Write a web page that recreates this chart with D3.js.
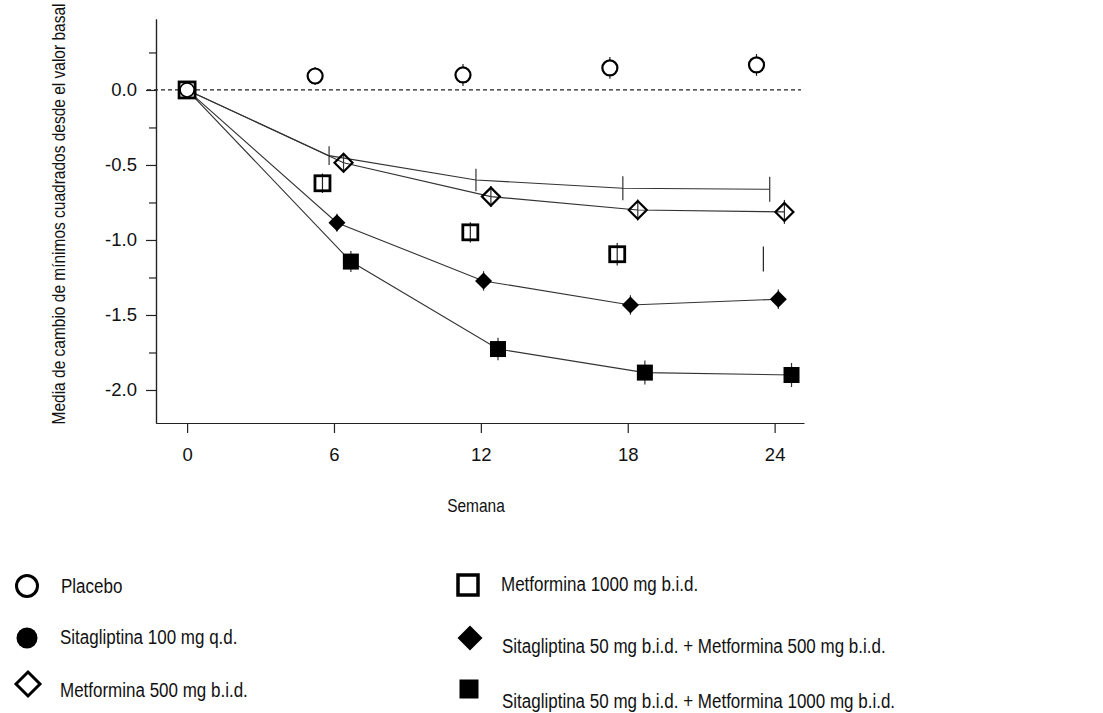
<!DOCTYPE html>
<html>
<head>
<meta charset="utf-8">
<script src="https://cdn.jsdelivr.net/npm/d3@7"></script>
<style>
body { margin: 0; background: #fff; }
text { font-family: "Liberation Sans", Arial, sans-serif; fill: #111; }
</style>
</head>
<body>
<script>
// values; each group sits a little off the nominal week
var xTicks = [0, 6, 12, 18, 24]
var yMajor = [0, -0.5, -1.0, -1.5, -2.0]
var yMajorLabels = ["0.0", "-0.5", "-1.0", "-1.5", "-2.0"]
var yMinor = [0.25, -0.25, -0.75, -1.25, -1.75]

var placeboWeeks = [0, 5.23, 11.27, 17.27, 23.26]
var placeboVals  = [0, 0.093, 0.10, 0.147, 0.167]
var placeboErr   = [0, 0.06, 0.073, 0.073, 0.073]

var sita100Weeks = [0, 5.8, 11.8, 17.8, 23.8]
var sita100Vals  = [0, -0.438, -0.60, -0.655, -0.662]
var sita100Err   = [0, 0.062, 0.075, 0.08, 0.083]

var met500Weeks = [0, 6.39, 12.41, 18.41, 24.4]
var met500Vals  = [0, -0.485, -0.711, -0.80, -0.813]
var met500Err   = [0, 0.065, 0.07, 0.07, 0.08]

var met1000Weeks = [0, 5.53, 11.57, 17.57, 23.54]
var met1000Vals  = [0, -0.622, -0.949, -1.095, -1.127]
var met1000Err   = [0, 0.065, 0.067, 0.075, 0.083]
var met1000Shown = [1, 1, 1, 1, 0]   // last square is missing in the source

var sm500Weeks = [0, 6.12, 12.11, 18.11, 24.15]
var sm500Vals  = [0, -0.885, -1.273, -1.433, -1.395]
var sm500Err   = [0, 0.06, 0.065, 0.065, 0.065]

var sm1000Weeks = [0, 6.69, 12.70, 18.70, 24.69]
var sm1000Vals  = [0, -1.144, -1.727, -1.884, -1.90]
var sm1000Err   = [0, 0.07, 0.075, 0.08, 0.08]

var legendLabels = ["Placebo", "Sitagliptina 100 mg q.d.", "Metformina 500 mg b.i.d.",
	"Metformina 1000 mg b.i.d.", "Sitagliptina 50 mg b.i.d. + Metformina 500 mg b.i.d.",
	"Sitagliptina 50 mg b.i.d. + Metformina 1000 mg b.i.d."]
var legendSymbols = ["circleOpen", "circleFilled", "diamondOpen", "squareOpen", "diamondFilled", "squareFilled"]

function pts(w, v, e) {
	return w.map(function(d, i) { return {w: d, v: v[i], e: e[i], i: i} })
}

var width = 1103, height = 713
var svg = d3.select("body").append("svg")
	.attr("width", width)
	.attr("height", height)

var x = d3.scaleLinear().domain([-1.27, 25.2]).range([156, 804])
var y = d3.scaleLinear().domain([-2.22, 0.473]).range([423, 19])

// the source text is a bit taller than it is wide
var stretch = 1.15

////////////////////////////////////////////////////////////////////////////////
// axes
var yMinorAxis = d3.axisLeft(y).tickValues(yMinor).tickSize(7).tickSizeOuter(0).tickFormat("")
var yAxis = d3.axisLeft(y).tickValues(yMajor).tickSize(10).tickSizeOuter(0).tickPadding(9)
	.tickFormat(function(d, i) { return yMajorLabels[i] })
var xAxis = d3.axisBottom(x).tickValues(xTicks).tickSize(10).tickSizeOuter(0).tickPadding(15)

svg.append("g").attr("transform", "translate(156,0)").call(yMinorAxis)
var gy = svg.append("g").attr("transform", "translate(156,0)").call(yAxis)
var gx = svg.append("g").attr("transform", "translate(0,423)").call(xAxis)

svg.selectAll(".domain, .tick line").attr("stroke", "#222").attr("stroke-width", 1.2)
svg.selectAll(".tick text").attr("font-size", 18.5).attr("fill", "#222")
	.style("font-family", '"Liberation Sans", Arial, sans-serif')

// dashed zero line
svg.append("line")
	.attr("x1", 147).attr("x2", 801)
	.attr("y1", y(0)).attr("y2", y(0))
	.attr("stroke", "#222").attr("stroke-width", 1.2)
	.attr("stroke-dasharray", "4,3")

////////////////////////////////////////////////////////////////////////////////
// markers
function drawSymbol(g, type, cx, cy, s) {
	if (type == "circleOpen" || type == "circleFilled") {
		g.append("circle").attr("cx", cx).attr("cy", cy).attr("r", s.r)
			.attr("fill", type == "circleFilled" ? "#000" : (s.fill || "none"))
			.attr("stroke", "#000").attr("stroke-width", s.sw || 0)
	} else if (type == "squareOpen" || type == "squareFilled") {
		g.append("rect").attr("x", cx - s.r).attr("y", cy - s.r)
			.attr("width", 2 * s.r).attr("height", 2 * s.r)
			.attr("fill", type == "squareFilled" ? "#000" : (s.fill || "none"))
			.attr("stroke", "#000").attr("stroke-width", s.sw || 0)
	} else {
		var h = s.r
		g.append("path")
			.attr("d", "M" + cx + "," + (cy - h) + "L" + (cx + h) + "," + cy + "L" + cx + "," + (cy + h) + "L" + (cx - h) + "," + cy + "Z")
			.attr("fill", type == "diamondFilled" ? "#000" : (s.fill || "none"))
			.attr("stroke", "#000").attr("stroke-width", s.sw || 0)
			.attr("stroke-linejoin", "miter")
	}
}

var line = d3.line().x(function(d) { return x(d.w) }).y(function(d) { return y(d.v) })

var plot = svg.append("g")

function errorBars(data, color) {
	plot.selectAll(null)
		.data(data.filter(function(d) { return d.e > 0 }))
		.enter().append("line")
		.attr("x1", function(d) { return x(d.w) })
		.attr("x2", function(d) { return x(d.w) })
		.attr("y1", function(d) { return y(d.v - d.e) })
		.attr("y2", function(d) { return y(d.v + d.e) })
		.attr("stroke", color).attr("stroke-width", 1.2)
}

var placebo = pts(placeboWeeks, placeboVals, placeboErr)
var sita100 = pts(sita100Weeks, sita100Vals, sita100Err)
var met500 = pts(met500Weeks, met500Vals, met500Err)
var met1000 = pts(met1000Weeks, met1000Vals, met1000Err)
var sm500 = pts(sm500Weeks, sm500Vals, sm500Err)
var sm1000 = pts(sm1000Weeks, sm1000Vals, sm1000Err)

// connecting lines
;[sita100, met500, sm500, sm1000].forEach(function(s) {
	plot.append("path").datum(s).attr("d", line)
		.attr("fill", "none").attr("stroke", "#333").attr("stroke-width", 1.1)
})

errorBars(sita100, "#333")
errorBars(placebo, "#222")
errorBars(met500, "#333")
errorBars(met1000, "#222")
errorBars(sm500, "#333")
errorBars(sm1000, "#333")

placebo.slice(1).forEach(function(d) { drawSymbol(plot, "circleOpen", x(d.w), y(d.v), {r: 7.5, sw: 2.2, fill: "#fff"}) })
met500.slice(1).forEach(function(d) { drawSymbol(plot, "diamondOpen", x(d.w), y(d.v), {r: 9, sw: 2.2}) })
met1000.slice(1).forEach(function(d) { if (met1000Shown[d.i]) drawSymbol(plot, "squareOpen", x(d.w), y(d.v), {r: 7.5, sw: 2.8}) })
sm500.slice(1).forEach(function(d) { drawSymbol(plot, "diamondFilled", x(d.w), y(d.v), {r: 8.5}) })
sm1000.slice(1).forEach(function(d) { drawSymbol(plot, "squareFilled", x(d.w), y(d.v), {r: 8}) })

// week 0: square with circle on top
drawSymbol(plot, "squareOpen", x(met1000[0].w), y(met1000[0].v), {r: 8, sw: 2.8, fill: "#fff"})
drawSymbol(plot, "circleOpen", x(placebo[0].w), y(placebo[0].v), {r: 7, sw: 1.6, fill: "#fff"})

////////////////////////////////////////////////////////////////////////////////
// titles
svg.append("text")
	.attr("transform", "translate(65,214) rotate(-90) scale(1," + stretch + ")")
	.attr("text-anchor", "middle")
	.attr("font-size", 15.5)
	.text("Media de cambio de mínimos cuadrados desde el valor basal")

svg.append("text")
	.attr("transform", "translate(476,512) scale(1," + stretch + ")")
	.attr("text-anchor", "middle")
	.attr("font-size", 15.5)
	.text("Semana")

////////////////////////////////////////////////////////////////////////////////
// legend
var legMarkX = [27, 27, 28, 468, 470, 469]
var legMarkY = [586, 638, 684, 585, 638, 689]
var legTextX = [61, 60, 60, 501, 502, 502]
var legTextY = [593, 644, 697, 591, 653, 708]
var legStyle = [{r: 10.5, sw: 3}, {r: 10.5}, {r: 12, sw: 3}, {r: 10, sw: 3.5}, {r: 12.5}, {r: 9.5}]

var leg = svg.append("g")
legendLabels.forEach(function(lab, i) {
	drawSymbol(leg, legendSymbols[i], legMarkX[i], legMarkY[i], legStyle[i])
	leg.append("text")
		.attr("transform", "translate(" + legTextX[i] + "," + legTextY[i] + ") scale(1," + stretch + ")")
		.attr("font-size", 17).text(lab)
})
</script>
</body>
</html>
